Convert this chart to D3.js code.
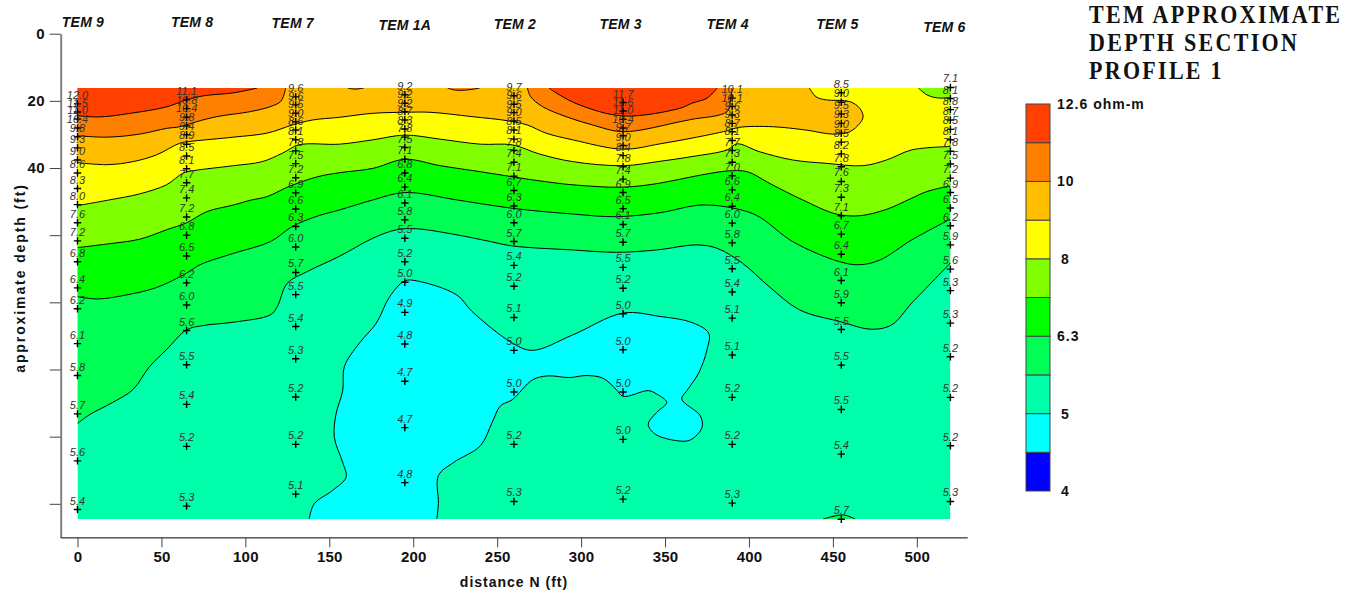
<!DOCTYPE html>
<html>
<head>
<meta charset="utf-8">
<title>TEM approximate depth section</title>
<script src="https://cdnjs.cloudflare.com/ajax/libs/d3/7.8.5/d3.min.js"></script>
<style>
  html, body { margin: 0; padding: 0; background: #fff; }
  svg { display: block; }
  text { font-family: "Liberation Sans", Arial, sans-serif; }
</style>
</head>
<body>
<svg id="chart" width="1356" height="591"></svg>
<script>
// soundings: one column per station
const stationNames = ['TEM 9', 'TEM 8', 'TEM 7', 'TEM 1A', 'TEM 2', 'TEM 3', 'TEM 4', 'TEM 5', 'TEM 6'];
const stationDist = [0, 65, 130, 195, 260, 325, 390, 455, 520];

const depths9 = [20.9, 23.3, 25.4, 28.1, 30.7, 34.0, 37.6, 41.5, 46.1, 50.9, 56.3, 61.7, 67.9, 75.7, 81.9, 92.3, 101.8, 113.2, 127.2, 141.7];
const values9 = [12.0, 11.5, 11.0, 10.4, 9.8, 9.3, 9.0, 8.6, 8.3, 8.0, 7.6, 7.2, 6.8, 6.4, 6.2, 6.1, 5.8, 5.7, 5.6, 5.4];
const depths8 = [19.7, 22.3, 24.9, 27.5, 30.1, 32.9, 36.4, 40.2, 44.4, 48.9, 54.6, 60.0, 66.2, 74.2, 80.8, 88.4, 98.6, 110.4, 122.9, 140.7];
const values8 = [11.1, 10.8, 10.4, 9.8, 9.4, 8.9, 8.5, 8.1, 7.7, 7.4, 7.2, 6.8, 6.5, 6.2, 6.0, 5.6, 5.5, 5.4, 5.2, 5.3];
const depths7 = [18.8, 21.2, 23.7, 26.2, 28.7, 31.6, 34.9, 38.7, 42.9, 47.4, 52.2, 57.4, 63.5, 71.1, 77.7, 87.2, 96.8, 108.2, 122.3, 137.1];
const values7 = [9.6, 9.6, 9.5, 9.0, 8.6, 8.1, 7.8, 7.5, 7.2, 6.9, 6.6, 6.3, 6.0, 5.7, 5.5, 5.4, 5.3, 5.2, 5.2, 5.1];
const depths1a = [18.2, 20.7, 23.2, 25.7, 28.4, 30.8, 33.9, 37.4, 41.5, 45.7, 50.4, 55.4, 60.9, 67.9, 74.0, 83.0, 92.4, 103.5, 117.3, 133.7];
const values1a = [9.2, 9.2, 9.2, 8.7, 8.3, 7.8, 7.5, 7.1, 6.8, 6.4, 6.1, 5.8, 5.5, 5.2, 5.0, 4.9, 4.8, 4.7, 4.7, 4.8];
const depths2 = [18.5, 21.0, 23.5, 26.0, 28.7, 31.4, 34.8, 38.3, 42.4, 46.7, 51.3, 56.3, 61.9, 69.0, 75.2, 84.5, 94.3, 106.7, 122.3, 139.3];
const values2 = [9.7, 9.6, 9.5, 9.0, 8.5, 8.1, 7.8, 7.4, 7.1, 6.7, 6.3, 6.0, 5.7, 5.4, 5.2, 5.1, 5.0, 5.0, 5.2, 5.3];
const depths3 = [20.5, 23.0, 25.5, 28.1, 30.4, 33.3, 36.3, 39.6, 43.3, 47.3, 52.1, 56.8, 62.1, 69.6, 75.8, 83.4, 94.1, 106.7, 120.8, 138.6];
const values3 = [11.7, 11.6, 11.0, 10.4, 9.7, 9.0, 8.4, 7.8, 7.4, 6.9, 6.5, 6.1, 5.7, 5.5, 5.2, 5.0, 5.0, 5.0, 5.0, 5.2];
const depths4 = [19.2, 21.7, 24.2, 26.7, 29.2, 31.8, 34.8, 38.3, 42.3, 46.5, 51.4, 56.4, 62.3, 70.0, 76.9, 84.7, 95.7, 108.3, 122.3, 139.8];
const values4 = [10.1, 10.1, 9.6, 9.3, 8.7, 8.1, 7.7, 7.3, 7.0, 6.6, 6.4, 6.0, 5.8, 5.5, 5.4, 5.1, 5.1, 5.2, 5.2, 5.3];
const depths5 = [17.6, 20.4, 23.9, 26.7, 29.6, 32.3, 35.8, 39.6, 44.0, 48.7, 54.2, 59.7, 65.7, 73.5, 80.1, 88.1, 98.7, 111.9, 125.2, 144.6];
const values5 = [8.5, 9.0, 9.5, 9.3, 9.0, 8.5, 8.2, 7.8, 7.6, 7.3, 7.1, 6.7, 6.4, 6.1, 5.9, 5.5, 5.5, 5.5, 5.4, 5.7];
const depths6 = [16.0, 19.3, 22.6, 25.7, 28.5, 31.6, 35.0, 38.8, 43.0, 47.3, 51.9, 57.2, 62.9, 70.1, 76.5, 86.2, 96.2, 108.3, 122.7, 139.3];
const values6 = [7.1, 8.1, 8.8, 8.7, 8.5, 8.1, 7.8, 7.5, 7.2, 6.9, 6.5, 6.2, 5.9, 5.6, 5.3, 5.3, 5.2, 5.2, 5.2, 5.3];

const stationDepths = [depths9, depths8, depths7, depths1a, depths2, depths3, depths4, depths5, depths6];
const stationValues = [values9, values8, values7, values1a, values2, values3, values4, values5, values6];

// contour lines as [distance ft, depth ft]
const line112a = [[0, 24.4], [13, 24.8], [33, 23.6], [53, 21.8], [65, 19.7], [75, 18.5], [93, 17.6], [107, 16.2]];
const line112b = [[281, 16.2], [287, 18.2], [299, 21.2], [325, 24.5], [359, 22.2], [366, 20.7], [375, 19.2], [381, 16.2]];
const line100a = [[0, 30.4], [18, 30.8], [37, 29.9], [53, 28.2], [61, 27.7], [71, 26.2], [83, 24.7], [103, 23.2], [115, 21.7], [121, 20.2], [123, 18.2], [124, 16.2]];
const line100b = [[268, 16.2], [270, 18.8], [277, 21.7], [291, 24.7], [307, 27.2], [325, 29.2], [359, 26.2], [366, 25.5], [387, 23.2], [389, 19.7], [390, 16.2]];
const line100c = [[161, 16.2], [165, 16.5], [170.5, 16.2]];
const line100d = [[220.5, 16.2], [225, 16.8], [231, 16.8], [236, 16.5], [239.5, 16.2]];
const line89 = [[0, 38.4], [18, 39.0], [33, 38.1], [47, 36.1], [61, 32.6], [67, 32.1], [93, 30.8], [113, 29.6], [128, 27.2], [140, 25.7], [156, 24.9], [176, 23.7], [195, 23.4], [210, 23.4], [235, 24.7], [256, 25.9], [268, 27.2], [279, 29.6], [295, 31.6], [325, 34.4], [347, 32.8], [366, 31.1], [387, 28.9], [394, 27.9], [414, 27.7], [434, 28.7], [450, 29.9], [460, 29.2], [466, 26.7], [468, 24.7], [466, 22.2], [460, 20.2], [446, 19.7], [440, 18.8], [436, 16.2]];
const line80a = [[0, 51.2], [19, 49.5], [37, 47.7], [53, 45], [63, 41.5], [69, 40.8], [93, 39.3], [110, 38.1], [122, 35.6], [132, 33.1], [156, 32.9], [176, 31.6], [195, 30.2], [216, 31.4], [240, 32.9], [259, 33.1], [275, 35.8], [295, 38.1], [325, 39.3], [347, 38], [366, 36.6], [387, 34.6], [393, 32.8], [406, 35.1], [426, 37.6], [446, 38.6], [468, 39.3], [482, 37.6], [497, 34.6], [520, 33.6]];
const line80b = [[501, 16.2], [506, 18.2], [512, 19.1], [520, 19.1]];
const line71 = [[0, 63.7], [18, 62.6], [37, 61.2], [53, 58.4], [65, 56.3], [77, 53], [93, 51], [103, 49.6], [113, 48.5], [126, 45.5], [143, 42.6], [156, 41.4], [176, 40.1], [195, 37.4], [216, 39.3], [240, 41.1], [259, 42.6], [275, 43.8], [295, 45], [325, 45.7], [347, 44.5], [366, 42.6], [387, 40.9], [399, 41.1], [412, 44.5], [432, 49.5], [452, 53.7], [466, 54.2], [482, 52.3], [496, 49.2], [506, 47], [520, 45.3]];
const line63 = [[0, 78.3], [12, 79], [29, 77.8], [47, 75.6], [65, 71.3], [73, 68.8], [93, 65.4], [115, 61.9], [128, 57.4], [143, 54.3], [156, 52.5], [176, 49.5], [195, 47.3], [226, 49.5], [259, 52], [295, 53.7], [321, 54.5], [347, 53.3], [372, 51], [394, 52.3], [406, 54.5], [426, 61.9], [454, 67.9], [466, 68.8], [478, 67.4], [497, 61.4], [520, 55.2]];
const line56a = [[0, 116.1], [7, 113.5], [21, 109.8], [33, 106], [43, 99.1], [53, 94.1], [65, 88.2], [75, 86.9], [93, 85.9], [115, 83.7], [119, 81.3], [125, 74.3], [137, 70.8], [156, 66.3], [176, 60.9], [190, 58.4], [202, 58.1], [226, 59.9], [246, 61.9], [259, 63.2], [295, 64.4], [321, 65.1], [345, 64.4], [369, 62.9], [381, 63.9], [396, 68.3], [412, 75.3], [430, 82.2], [454, 85.7], [473, 88], [485, 86.7], [497, 80.2], [520, 68.3]];
const line56b = [[444, 144.6], [456, 143.3], [463.5, 144.6]];
const line50 = [[138, 144.6], [141, 140], [152, 136], [160, 132.1], [158, 127.7], [153, 120.2], [154, 113.3], [158, 106.3], [159, 99.1], [168, 92.1], [178, 86.2], [186, 78.3], [195, 73.6], [202, 73.6], [226, 77.8], [235, 82.7], [259, 92.1], [271, 94.3], [295, 89.7], [325, 83.2], [347, 84.2], [366, 86], [376, 89.2], [375, 94.1], [370, 101.1], [363, 106.3], [360, 108.8], [371, 113.8], [372, 117.3], [365, 121], [357, 121.2], [344, 119.2], [340, 116.3], [345, 112.8], [351, 109.8], [345, 107.3], [340, 106.3], [325, 108], [321, 106], [313, 102.6], [303, 101.8], [293, 102.4], [280, 101.9], [271, 103.1], [259, 109], [252, 110.8], [247, 115.8], [240, 122.7], [224, 127.7], [215, 131.6], [215, 139.9], [214, 144.6]];

// colour bands, low to high
const bandColors = ['#0000ff', '#00ffff', '#00ffaa', '#00ff55', '#00ff00', '#80ff00', '#ffff00', '#ffbf00', '#ff8000', '#ff4000'];
const legendSteps = [0, 1, 2, 3, 4, 5, 6, 7, 8, 9, 10];
const legendTicks = [[0, '4'], [2, '5'], [4, '6.3'], [6, '8'], [8, '10'], [10, '12.6 ohm-m']];

const depthTicks = [0, 20, 40, 60, 80, 100, 120, 140];
const depthTickLabels = ['0', '20', '40', '', '', '', '', ''];
const distTicks = [0, 50, 100, 150, 200, 250, 300, 350, 400, 450, 500];
const titleLines = ['TEM APPROXIMATE', 'DEPTH SECTION', 'PROFILE 1'];

// hand placed station captions, offset from the station and y in px
const captionNudgeX = [5.5, 5.5, -3, 0, 1, -2.5, -4.5, -4, -6];
const captionY = [22, 22, 23, 25, 24, 24, 24, 24, 27];

const dataTop = 16.2;
const dataBottom = 144.6;

// fill order: base colour is bandColors[2], everything else painted over it
const fills = [
  { pts: line56a, band: 3, close: 'top' },
  { pts: line56b, band: 3, close: 'bottom' },
  { pts: line63, band: 4, close: 'top' },
  { pts: line71, band: 5, close: 'top' },
  { pts: line80a, band: 6, close: 'top' },
  { pts: line80b, band: 5, close: 'top' },
  { pts: line89, band: 7, close: 'top' },
  { pts: line100a, band: 8, close: 'top' },
  { pts: line100b, band: 8, close: 'top' },
  { pts: line100c, band: 8, close: 'top' },
  { pts: line100d, band: 8, close: 'top' },
  { pts: line112a, band: 9, close: 'top' },
  { pts: line112b, band: 9, close: 'top' },
  { pts: line50, band: 1, close: 'bottom' }
];

const svg = d3.select('#chart');

const x = d3.scaleLinear().domain([-10, 530]).range([60.7, 967.2]);
const y = d3.scaleLinear().domain([0, 150]).range([33.7, 537.4]);

const curve = d3.line()
  .x(d => x(d[0]))
  .y(d => y(d[1]))
  .curve(d3.curveCatmullRom.alpha(0.5));

function fillPath(f) {
  const first = f.pts[0];
  const last = f.pts[f.pts.length - 1];
  const edge = f.close === 'top' ? dataTop : dataBottom;
  return curve(f.pts) + 'L' + x(last[0]) + ',' + y(edge) + 'L' + x(first[0]) + ',' + y(edge) + 'Z';
}

svg.append('clipPath').attr('id', 'data-area')
  .append('rect')
  .attr('x', x(0))
  .attr('y', y(dataTop))
  .attr('width', x(520) - x(0))
  .attr('height', y(dataBottom) - y(dataTop));

const map = svg.append('g').attr('clip-path', 'url(#data-area)');

map.append('rect')
  .attr('x', x(0))
  .attr('y', y(dataTop))
  .attr('width', x(520) - x(0))
  .attr('height', y(dataBottom) - y(dataTop))
  .attr('fill', bandColors[2]);

map.selectAll('path.band')
  .data(fills)
  .enter().append('path')
  .attr('class', 'band')
  .attr('d', fillPath)
  .attr('fill', d => bandColors[d.band]);

map.selectAll('path.contour')
  .data(fills)
  .enter().append('path')
  .attr('class', 'contour')
  .attr('d', d => curve(d.pts))
  .attr('fill', 'none')
  .attr('stroke', '#000')
  .attr('stroke-width', 1);

// axes
const yAxis = d3.axisLeft(y)
  .tickValues(depthTicks)
  .tickFormat((d, i) => depthTickLabels[i])
  .tickSize(11)
  .tickSizeOuter(0)
  .tickPadding(5);

const xAxis = d3.axisBottom(x)
  .tickValues(distTicks)
  .tickSize(10)
  .tickSizeOuter(0)
  .tickPadding(4);

const gy = svg.append('g').attr('transform', 'translate(' + x(-10) + ',0)').call(yAxis);
const gx = svg.append('g').attr('transform', 'translate(0,' + y(150) + ')').call(xAxis);

gy.select('.domain').attr('stroke', '#808080').attr('stroke-width', 2);
gx.select('.domain').attr('stroke', '#000').attr('stroke-width', 1);
svg.selectAll('.tick line').attr('stroke', '#444').attr('stroke-width', 1);
svg.selectAll('.tick text')
  .attr('fill', '#111')
  .style('font-family', '"Liberation Sans", Arial, sans-serif')
  .style('font-size', '15px')
  .style('font-weight', 'bold')
  .style('letter-spacing', '0.2px');

svg.append('text')
  .attr('x', 514)
  .attr('y', 587)
  .attr('text-anchor', 'middle')
  .attr('fill', '#111')
  .style('font-size', '14px')
  .style('font-weight', 'bold')
  .style('letter-spacing', '1px')
  .text('distance N (ft)');

svg.append('text')
  .attr('transform', 'translate(25,278) rotate(-90)')
  .attr('text-anchor', 'middle')
  .attr('fill', '#111')
  .style('font-size', '14px')
  .style('font-weight', 'bold')
  .style('letter-spacing', '1.9px')
  .text('approximate depth (ft)');

// station captions
svg.selectAll('text.caption')
  .data(stationNames)
  .enter().append('text')
  .attr('class', 'caption')
  .attr('x', (d, i) => x(stationDist[i]) + captionNudgeX[i])
  .attr('y', (d, i) => captionY[i] + 5)
  .attr('text-anchor', 'middle')
  .attr('fill', '#111')
  .style('font-size', '14px')
  .style('font-weight', 'bold')
  .style('font-style', 'italic')
  .style('letter-spacing', '0.2px')
  .text(d => d);

// soundings: cross plus value
const soundings = stationDist.flatMap((dist, i) =>
  stationValues[i].map((v, j) => ({ dist: dist, depth: stationDepths[i][j], value: v })));

svg.selectAll('path.sounding')
  .data(soundings)
  .enter().append('path')
  .attr('class', 'sounding')
  .attr('transform', d => 'translate(' + x(d.dist) + ',' + y(d.depth) + ')')
  .attr('d', 'M-3.7,0H3.7M0,-3.7V3.7')
  .attr('fill', 'none')
  .attr('stroke', '#000')
  .attr('stroke-width', 1.4);

svg.selectAll('text.reading')
  .data(soundings)
  .enter().append('text')
  .attr('class', 'reading')
  .attr('x', d => x(d.dist))
  .attr('y', d => y(d.depth) - 5)
  .attr('text-anchor', 'middle')
  .attr('fill', '#333')
  .style('font-size', '11px')
  .style('font-style', 'italic')
  .text(d => d.value.toFixed(1));

// title, stretched a little upward like the original lettering
svg.selectAll('text.title')
  .data(titleLines)
  .enter().append('text')
  .attr('class', 'title')
  .attr('transform', (d, i) => 'translate(1089,' + (22.7 + i * 28.2) + ') scale(1,1.1)')
  .attr('fill', '#111')
  .style('font-family', '"Liberation Serif", "Times New Roman", serif')
  .style('font-size', '22px')
  .style('font-weight', 'bold')
  .style('letter-spacing', '2.3px')
  .text(d => d);

// colour legend
const legendY = d3.scalePoint().domain(legendSteps).range([491, 104]);

svg.selectAll('rect.swatch')
  .data(bandColors)
  .enter().append('rect')
  .attr('class', 'swatch')
  .attr('x', 1026)
  .attr('width', 24)
  .attr('y', (d, i) => legendY(i + 1))
  .attr('height', (d, i) => legendY(i) - legendY(i + 1))
  .attr('fill', d => d)
  .attr('stroke', '#444')
  .attr('stroke-width', 1);

svg.selectAll('text.legend-label')
  .data(legendTicks)
  .enter().append('text')
  .attr('class', 'legend-label')
  .attr('x', d => d[1].length === 1 ? 1061 : 1057)
  .attr('y', d => legendY(d[0]) + 5)
  .attr('fill', '#111')
  .style('font-size', '14px')
  .style('font-weight', 'bold')
  .style('letter-spacing', '1px')
  .text(d => d[1]);
</script>
</body>
</html>
